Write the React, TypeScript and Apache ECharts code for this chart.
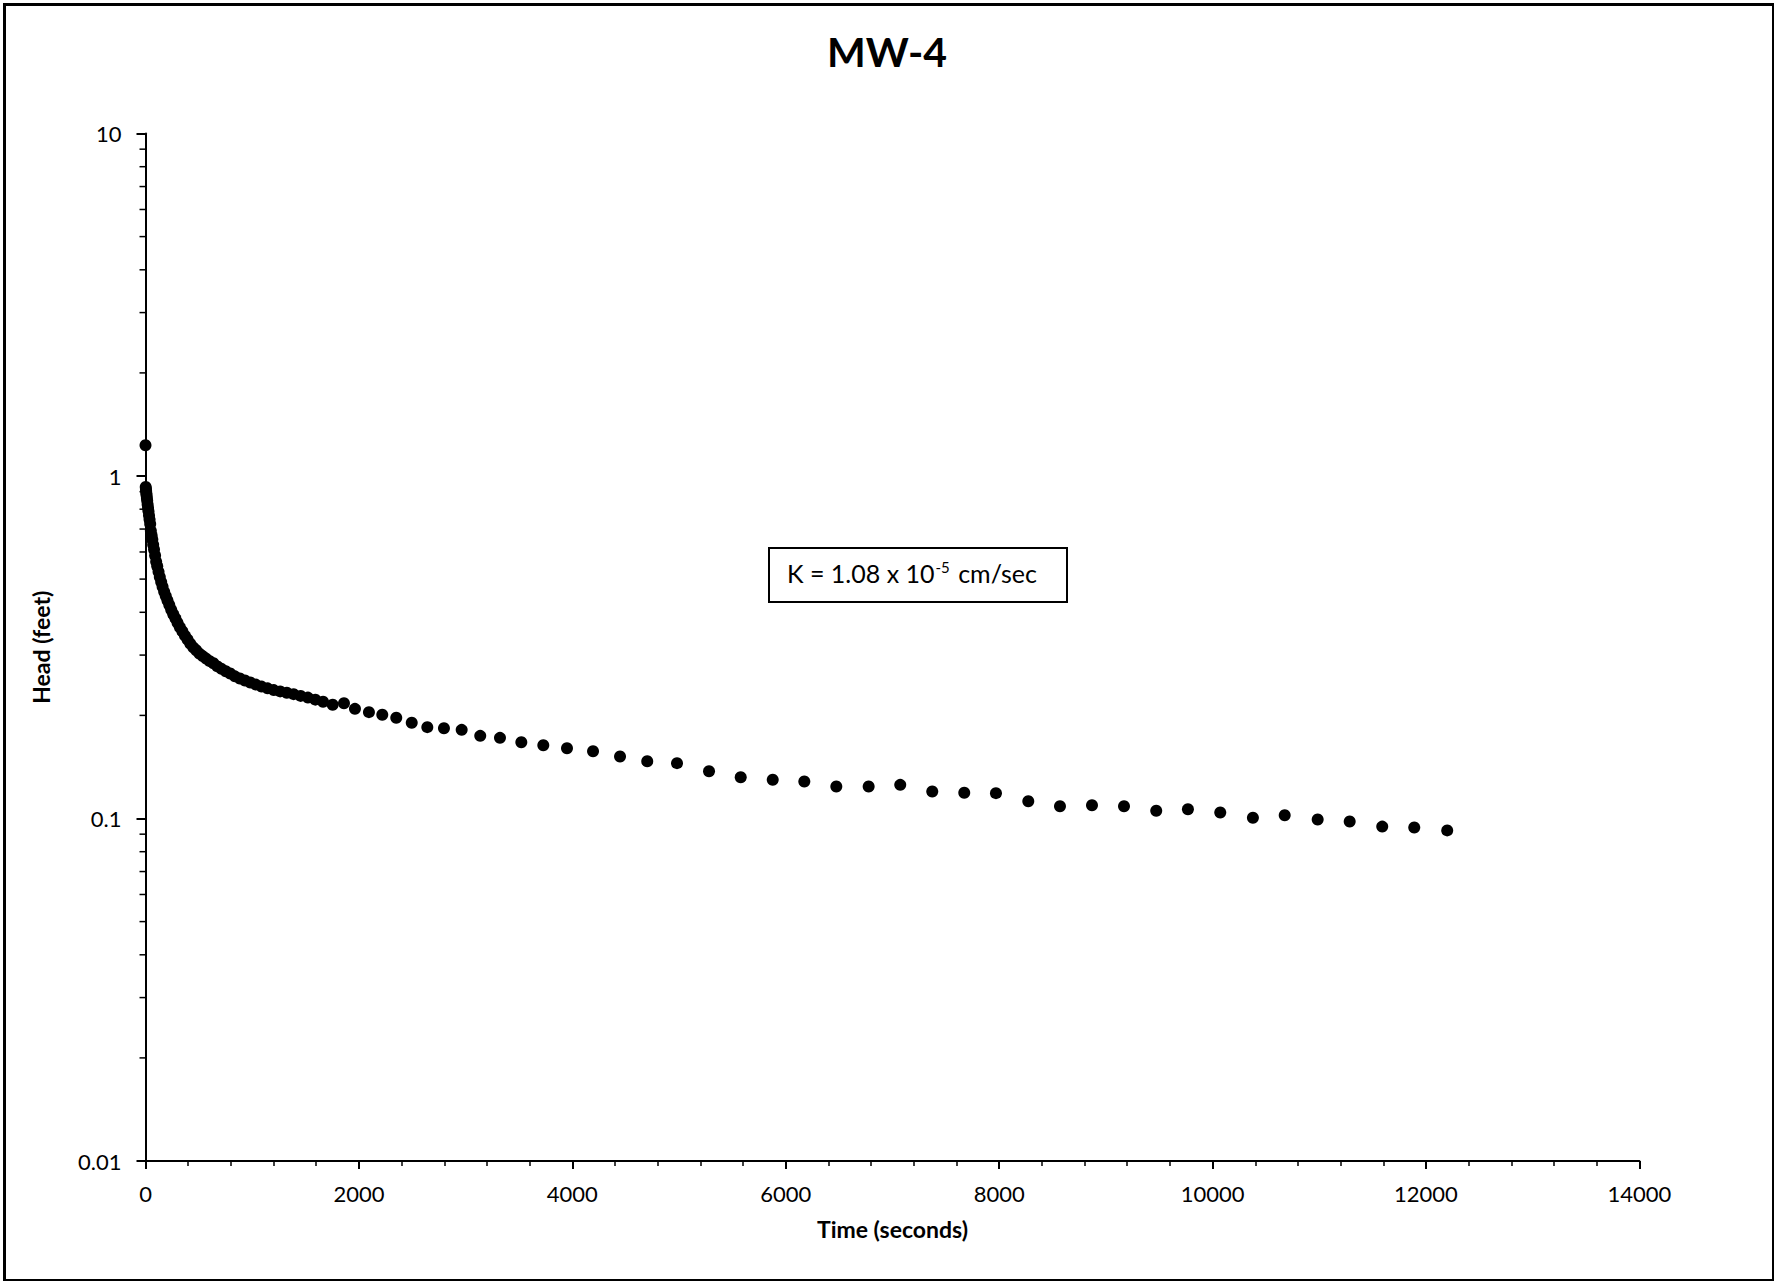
import React, { useEffect, useRef } from "react";
import * as echarts from "echarts";

// Time (seconds) and head (feet)
const timeSec = [
  0, 2, 4, 6, 8, 10, 13, 16, 20, 24, 28, 33, 38, 44, 50, 57, 64, 72, 80, 90,
  100, 110, 122, 134, 147, 160, 175, 190, 206, 223, 241, 260, 280, 300, 322,
  345, 369, 394, 420, 447, 475, 505, 536, 568, 602, 637, 674, 712, 752, 794,
  838, 884, 932, 982, 1034, 1088, 1144, 1202, 1262, 1324, 1388, 1454, 1522,
  1592, 1664, 1754, 1860, 1963, 2094, 2219, 2350, 2495, 2641, 2797, 2963,
  3137, 3322, 3522, 3728, 3950, 4194, 4447, 4702, 4981, 5281, 5578, 5878,
  6174, 6474, 6777, 7073, 7373, 7673, 7970, 8273, 8570, 8870, 9170, 9472,
  9769, 10072, 10378, 10676, 10985, 11285, 11590, 11890, 12199,
];
const headFt = [
  1.23, 0.929, 0.916, 0.904, 0.891, 0.879, 0.863, 0.847, 0.826, 0.807, 0.789,
  0.767, 0.746, 0.724, 0.692, 0.671, 0.652, 0.63, 0.61, 0.586, 0.562, 0.545,
  0.525, 0.507, 0.49, 0.475, 0.459, 0.446, 0.433, 0.42, 0.407, 0.395, 0.384,
  0.373, 0.362, 0.352, 0.342, 0.333, 0.324, 0.316, 0.31, 0.303, 0.298, 0.293,
  0.288, 0.284, 0.278, 0.2735, 0.269, 0.265, 0.26, 0.2564, 0.2529, 0.2495,
  0.246, 0.2427, 0.2399, 0.2371, 0.235, 0.2328, 0.2307, 0.228, 0.2254,
  0.2223, 0.2193, 0.2148, 0.2171, 0.209, 0.2044, 0.2008, 0.1968, 0.1903,
  0.1848, 0.1835, 0.1815, 0.1743, 0.172, 0.167, 0.1637, 0.1604, 0.1572,
  0.1517, 0.147, 0.1451, 0.1374, 0.132, 0.1297, 0.1282, 0.124, 0.124, 0.1254,
  0.1199, 0.1189, 0.1186, 0.1123, 0.1086, 0.1093, 0.1086, 0.1053, 0.1064,
  0.1041, 0.1005, 0.1022, 0.0993, 0.098, 0.0947, 0.0941, 0.0923,
];

// Y-axis minor tick values (2..9 in each decade)
const yMinorTickValues = [
  0.02, 0.03, 0.04, 0.05, 0.06, 0.07, 0.08, 0.09,
  0.2, 0.3, 0.4, 0.5, 0.6, 0.7, 0.8, 0.9,
  2, 3, 4, 5, 6, 7, 8, 9,
];

const titleText = "MW-4";
const xAxisTitle = "Time (seconds)";
const yAxisTitle = "Head (feet)";

const FONT = "Lato, 'Open Sans', sans-serif";

export default function App() {
  const ref = useRef<HTMLDivElement>(null);

  useEffect(() => {
    if (!ref.current) return;
    const chart = echarts.init(ref.current, null, { renderer: "svg" });
    const points = timeSec.map((t, i) => [t, headFt[i]]);

    chart.setOption({
      animation: false,
      backgroundColor: "#ffffff",
      title: {
        text: titleText,
        left: "center",
        top: 26,
        textStyle: {
          fontFamily: FONT,
          fontSize: 41,
          fontWeight: "bold",
          color: "#000",
        },
      },
      grid: {
        left: 145.5,
        right: 134.6,
        top: 133.5,
        bottom: 120,
        containLabel: false,
      },
      xAxis: {
        type: "value",
        min: 0,
        max: 14000,
        interval: 2000,
        name: xAxisTitle,
        nameLocation: "middle",
        nameGap: 56,
        nameTextStyle: {
          fontFamily: FONT,
          fontSize: 23,
          fontWeight: "bold",
          color: "#000",
        },
        axisLine: { show: true, onZero: false, lineStyle: { color: "#000", width: 2 } },
        axisTick: { show: true, length: 8, lineStyle: { color: "#000", width: 2 } },
        minorTick: { show: true, splitNumber: 5, length: 5, lineStyle: { color: "#000", width: 1.5 } },
        axisLabel: {
          margin: 21,
          fontFamily: FONT,
          fontSize: 22,
          color: "#000",
          formatter: (v: number) => String(v),
        },
        splitLine: { show: false },
      },
      yAxis: {
        type: "log",
        logBase: 10,
        min: 0.01,
        max: 10,
        name: yAxisTitle,
        nameLocation: "middle",
        nameGap: 93,
        nameTextStyle: {
          fontFamily: FONT,
          fontSize: 23,
          fontWeight: "bold",
          color: "#000",
        },
        axisLine: { show: true, onZero: false, lineStyle: { color: "#000", width: 2 } },
        axisTick: { show: true, length: 9, lineStyle: { color: "#000", width: 2 } },
        axisLabel: {
          margin: 24,
          fontFamily: FONT,
          fontSize: 22,
          color: "#000",
        },
        splitLine: { show: false },
      },
      series: [
        {
          type: "custom",
          clip: false,
          silent: true,
          z: 1,
          data: yMinorTickValues.map((v) => [0, v]),
          encode: { x: 0, y: 1 },
          renderItem: (params: any, api: any) => {
            const p = api.coord([api.value(0), api.value(1)]);
            return {
              type: "line",
              shape: { x1: p[0] - 6, y1: p[1], x2: p[0], y2: p[1] },
              style: { stroke: "#000", lineWidth: 1.5 },
            };
          },
        },
        {
          type: "scatter",
          clip: false,
          symbol: "circle",
          symbolSize: 12,
          itemStyle: { color: "#000", opacity: 1 },
          data: points,
          z: 3,
        },
      ],
      graphic: [
        {
          type: "rect",
          left: 2,
          top: 2,
          shape: { x: 0, y: 0, width: 1769, height: 1276 },
          style: { fill: "none", stroke: "#000", lineWidth: 3 },
          silent: true,
          z: 0,
        },
        {
          type: "rect",
          left: 768,
          top: 547,
          shape: { x: 0, y: 0, width: 298, height: 54 },
          style: { fill: "#fff", stroke: "#000", lineWidth: 2 },
          z: 10,
        },
        {
          type: "text",
          left: 787,
          top: 559,
          z: 11,
          style: {
            text: "{n|K = 1.08 x 10}{s|-5}{n| cm/sec}",
            rich: {
              n: { fontFamily: FONT, fontSize: 25, color: "#000", verticalAlign: "bottom" },
              s: { fontFamily: FONT, fontSize: 15, color: "#000", verticalAlign: "top", padding: [0, 2, 11, 1] },
            },
          },
        },
      ],
    });

    return () => chart.dispose();
  }, []);

  return (
    <div
      ref={ref}
      style={{ position: "fixed", left: 0, top: 0, width: 1774, height: 1281, background: "#fff" }}
    />
  );
}
